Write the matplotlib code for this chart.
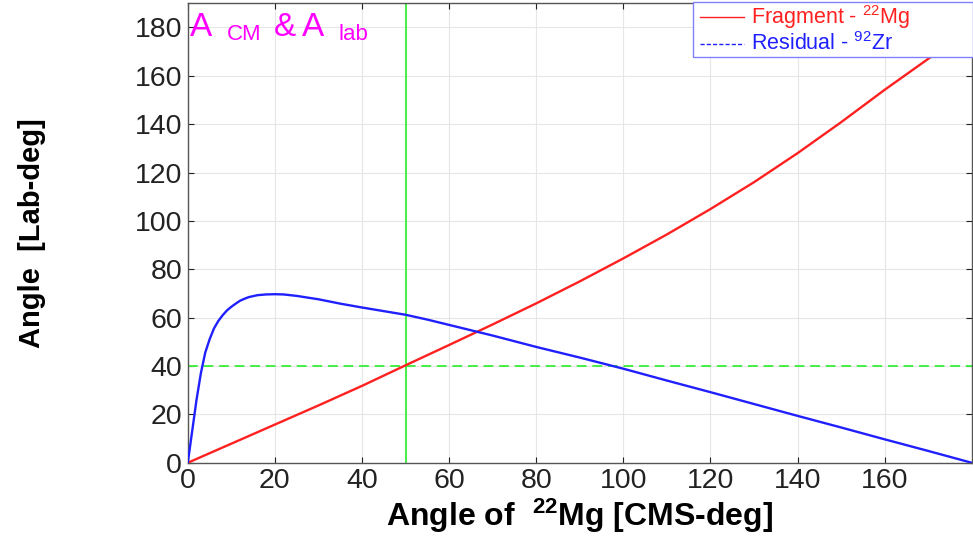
import matplotlib
matplotlib.use("Agg")
import matplotlib.pyplot as plt

plt.rcParams['font.family'] = ['Liberation Sans', 'DejaVu Sans']
plt.rcParams['mathtext.fontset'] = 'custom'
plt.rcParams['mathtext.rm'] = 'Liberation Sans'
plt.rcParams['mathtext.bf'] = 'Liberation Sans:bold'

# Fragment (22Mg) lab angle vs CM angle
frag_cm = [0, 10, 20, 30, 40, 50, 60, 70, 80, 90, 100, 110, 120, 130, 140, 150, 160, 170, 180]
frag_lab = [0, 7.9, 15.8, 23.7, 31.8, 40.3, 48.7, 57.2, 65.9, 75.0, 84.5, 94.4, 104.9, 116.0, 128.0, 140.8, 154.2, 167.0, 180.0]

# Residual (92Zr) lab angle vs CM angle
res_cm = [0, 1, 2, 3, 4, 5, 6, 7, 8, 9, 10, 11, 12, 13, 14, 16, 18, 20, 22, 25, 30, 35, 40, 45, 50,
          55, 60, 65, 70, 80, 90, 100, 110, 120, 130, 140, 150, 160, 170, 180]
res_lab = [0, 13.0, 26.0, 37.0, 45.5, 51.0, 55.5, 58.6, 61.0, 63.0, 64.5, 65.8, 67.0, 67.8, 68.5,
           69.3, 69.6, 69.7, 69.6, 69.0, 67.6, 65.8, 64.2, 62.7, 61.2, 59.2, 57.0, 54.8, 52.6,
           47.9, 43.5, 38.9, 34.0, 29.2, 24.3, 19.4, 14.6, 9.7, 4.9, 0.0]

x_ticks = [0, 20, 40, 60, 80, 100, 120, 140, 160]
y_ticks = [0, 20, 40, 60, 80, 100, 120, 140, 160, 180]
marker_cm = 50
marker_lab = 40

fig = plt.figure(figsize=(9.73, 5.40), dpi=100)
ax = fig.add_axes([0.193, 0.143, 0.8057, 0.851])

ax.plot(frag_cm, frag_lab, color='#ff2020', lw=1.7, zorder=3)
ax.plot(res_cm, res_lab, color='#2020ff', lw=1.7, zorder=3)
ax.axvline(marker_cm, color='#44ee44', lw=1.4, zorder=2)
ax.axhline(marker_lab, color='#44ee44', lw=1.4, ls=(0, (5, 3)), zorder=2)

ax.set_xlim(0, 180)
ax.set_ylim(0, 190)
ax.set_xticks(x_ticks)
ax.set_yticks(y_ticks)
ax.tick_params(direction='in', labelsize=20.5, colors='#222222', length=4, top=True, right=True, pad=4)
ax.tick_params(axis='x', pad=4)
ax.grid(True, color='#e6e6e6', lw=0.8)
for s in ax.spines.values():
    s.set_color('#555555')
    s.set_linewidth(1.0)

ax.set_xlabel(r'Angle of  $\mathbf{^{22}}$Mg [CMS-deg]', fontsize=23, fontweight='bold', labelpad=2)
ax.set_ylabel('Angle  [Lab-deg]', fontsize=21, fontweight='bold', labelpad=64)

# Legend drawn as a framed box in figure pixel coordinates
def fx(px):
    return px / 973

def fy(py):
    return 1 - py / 540

box = plt.Rectangle((fx(693), fy(57)), fx(973) - fx(693), fy(2) - fy(57), transform=fig.transFigure,
                    facecolor='white', edgecolor='#8080ff', lw=1.0, zorder=10)
fig.add_artist(box)
fig.add_artist(plt.Line2D([fx(700), fx(744)], [fy(17), fy(17)], transform=fig.transFigure,
                          color='#ff2020', lw=1.0, zorder=11))
fig.add_artist(plt.Line2D([fx(700), fx(744)], [fy(44), fy(44)], transform=fig.transFigure,
                          color='#2020ff', lw=1.0, ls=(0, (3, 1.5)), zorder=11))
fig.text(fx(751), fy(17), r'Fragment - $\mathregular{^{22}}$Mg', color='#ff2020', fontsize=15.5,
         ha='left', va='center', zorder=12)
fig.text(fx(751), fy(44), r'Residual - $\mathregular{^{92}}$Zr', color='#2020ff', fontsize=15.5,
         ha='left', va='center', zorder=12)

mag = '#ff00ff'
fig.text(190 / 973, 1 - 36 / 540, 'A', color=mag, fontsize=24, ha='left', va='baseline')
fig.text(227 / 973, 1 - 39.5 / 540, 'CM', color=mag, fontsize=16, ha='left', va='baseline')
fig.text(274 / 973, 1 - 36 / 540, '&', color=mag, fontsize=24, ha='left', va='baseline')
fig.text(302 / 973, 1 - 36 / 540, 'A', color=mag, fontsize=24, ha='left', va='baseline')
fig.text(339 / 973, 1 - 39.5 / 540, 'lab', color=mag, fontsize=16, ha='left', va='baseline')

fig.savefig('out.png', dpi=100)
